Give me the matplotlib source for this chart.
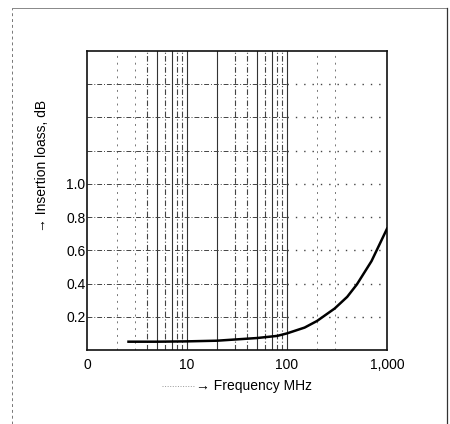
import numpy as np
import matplotlib
matplotlib.use("Agg")
import matplotlib.pyplot as plt
from matplotlib.lines import Line2D
from matplotlib.ticker import FixedLocator, NullFormatter

# values
freq_mhz = [2.6, 5, 10, 20, 50, 80, 100, 150, 200, 300, 400, 500, 700, 1000]
loss_db = [0.05, 0.05, 0.052, 0.056, 0.072, 0.085, 0.1, 0.135, 0.175, 0.25, 0.32, 0.395, 0.535, 0.73]

x_ticks = [1, 10, 100, 1000]
x_labels = ["0", "10", "100", "1,000"]
y_ticks = [0.2, 0.4, 0.6, 0.8, 1.0]
y_labels = ["0.2", "0.4", "0.6", "0.8", "1.0"]
y_grid = [0.2, 0.4, 0.6, 0.8, 1.0, 1.2, 1.4, 1.6]

faint_x = [2, 3, 200, 300]
dashed_x = [4, 6, 8, 9, 30, 40, 60, 80, 90]
solid_x = [5, 7, 10, 20, 50, 70, 100]

plt.rcParams['font.family'] = ['Liberation Sans', 'DejaVu Sans']

fig = plt.figure(figsize=(4.5, 4.24), dpi=100)
ax = fig.add_axes([87/450, 1 - 350/424, 300/450, 299/424])

ax.set_xscale('log')
ax.set_xlim(1, 1000)
ax.set_ylim(0, 1.8)

gstyle = (0, (5, 2, 1, 2))
for xv in faint_x:
    ax.axvline(xv, color='#777777', lw=0.7, ls=(0, (2, 5)), zorder=1)
for xv in dashed_x:
    ax.axvline(xv, color='#444444', lw=0.8, ls=gstyle, zorder=1)
for xv in solid_x:
    ax.axvline(xv, color='#333333', lw=0.8, zorder=1)
for yv in y_grid:
    ax.plot([1, 100], [yv, yv], color='#444444', lw=0.7, ls=gstyle, zorder=1)
    ax.plot([100, 1000], [yv, yv], color='#444444', lw=1.0, ls=(0, (1, 5)), zorder=1)

ax.plot(freq_mhz, loss_db, color='black', lw=1.8, zorder=3)

ax.xaxis.set_major_locator(FixedLocator(x_ticks))
ax.xaxis.set_minor_formatter(NullFormatter())
ax.xaxis.set_minor_locator(FixedLocator([]))
ax.set_xticklabels(x_labels, fontsize=10)
ax.set_yticks(y_ticks)
ax.set_yticklabels(y_labels, fontsize=10)
ax.tick_params(length=0, pad=6)
ax.tick_params(axis='y', pad=1)
for s in ax.spines.values():
    s.set_linewidth(1.2)
    s.set_color('#111111')

fig.text(42/450, 1 - 166/424, "\u2192 Insertion loass, dB", rotation=90,
         ha='center', va='center', fontsize=10)
fig.text(196/450, 1 - 386/424, "\u2192 Frequency MHz", ha='left', va='center', fontsize=10)
fig.add_artist(Line2D([162/450, 195/450], [1 - 386/424, 1 - 386/424],
                      color='#999999', lw=0.7, ls=':'))

# scan frame
fig.add_artist(Line2D([12/450, 12/450], [0, 1 - 8/424], color='#777777', lw=0.7, ls=(0, (3, 3))))
fig.add_artist(Line2D([12/450, 447/450], [1 - 8/424, 1 - 8/424], color='#888888', lw=0.7))
fig.add_artist(Line2D([447/450, 447/450], [0, 1 - 8/424], color='#333333', lw=0.9))

fig.savefig("out.png", dpi=100)
